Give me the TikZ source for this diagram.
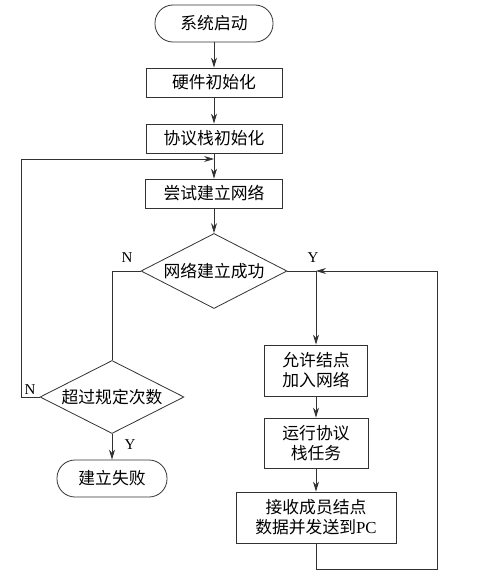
\documentclass[tikz,border=0pt]{standalone}
\usepackage{fontspec}
\setmainfont{Liberation Serif}
\newfontfamily\cjk{Noto Sans CJK SC}
\usepackage{tikz}
\usetikzlibrary{positioning, shapes.geometric, arrows.meta}
\definecolor{LineGray}{RGB}{50, 50, 50}

\begin{document}
\begin{tikzpicture}[x=1pt, y=-1pt, line width=0.8pt, draw=LineGray,
    procbox/.style={draw=LineGray, rectangle, inner sep=2pt, align=center,
        font=\cjk\fontsize{16.8}{20}\selectfont},
    termbox/.style={draw=LineGray, rectangle, rounded corners=18pt, inner sep=2pt,
        font=\cjk\fontsize{16.8}{20}\selectfont},
    decbox/.style={draw=LineGray, diamond, inner sep=0pt, aspect=1.95,
        font=\cjk\fontsize{16.8}{20}\selectfont},
    yn/.style={font=\fontsize{15}{18}\selectfont},
    arrow/.style={-{Stealth[length=10pt, width=6pt]}, LineGray}]
    \useasboundingbox (0,0) rectangle (476,580);

    % Main column
    \node[termbox, minimum width=118pt, minimum height=37pt] (start) at (214,23.5) {系统启动};
    \node[procbox, minimum width=136pt, minimum height=29pt] (hwinit) at (214,82.5) {硬件初始化};
    \node[procbox, minimum width=136pt, minimum height=29pt] (stackinit) at (214,138.5) {协议栈初始化};
    \node[procbox, minimum width=137pt, minimum height=29pt] (trynet) at (214,193.5) {尝试建立网络};
    \node[decbox, minimum width=146pt, minimum height=75pt] (netok) at (214,271) {网络建立成功};

    % Failure branch
    \node[decbox, minimum width=144pt, minimum height=73pt] (retry) at (112,397) {超过规定次数};
    \node[termbox, minimum width=110pt, minimum height=37pt] (fail) at (112,478.5) {建立失败};

    % Success branch
    \node[procbox, minimum width=103pt, minimum height=51pt] (allow) at (316,370.5) {允许结点\\加入网络};
    \node[procbox, minimum width=104pt, minimum height=50pt] (runstack) at (316,443) {运行协议\\栈任务};
    \node[procbox, minimum width=160pt, minimum height=51pt] (recv) at (316,517.5) {接收成员结点\\数据并发送到{\fontspec{Liberation Serif}PC}};

    % Junctions
    \coordinate (join) at (214,159);
    \coordinate (merge) at (316,271);
    \coordinate (back) at (437,569);

    % Arrows
    \draw[arrow] (start) -- (hwinit);
    \draw[arrow] (hwinit) -- (stackinit);
    \draw[arrow] (stackinit) -- (trynet);
    \draw[arrow] (trynet) -- (netok);
    \draw (netok.west) -| (retry.north);
    \draw[arrow] (retry.west) -- ++(-18,0) |- (join);
    \draw[arrow] (retry.south) -- (fail);
    \draw[arrow] (netok.east) -| (allow.north);
    \draw[arrow] (allow) -- (runstack);
    \draw[arrow] (runstack) -- (recv);
    \draw[arrow] (recv.south) |- (back) |- (merge);

    % Labels
    \node[yn] (noA) at (127,258) {N};
    \node[yn] (yesA) at (313,258) {Y};
    \node[yn] (noB) at (30,390) {N};
    \node[yn] (yesB) at (130,445) {Y};
\end{tikzpicture}
\end{document}
